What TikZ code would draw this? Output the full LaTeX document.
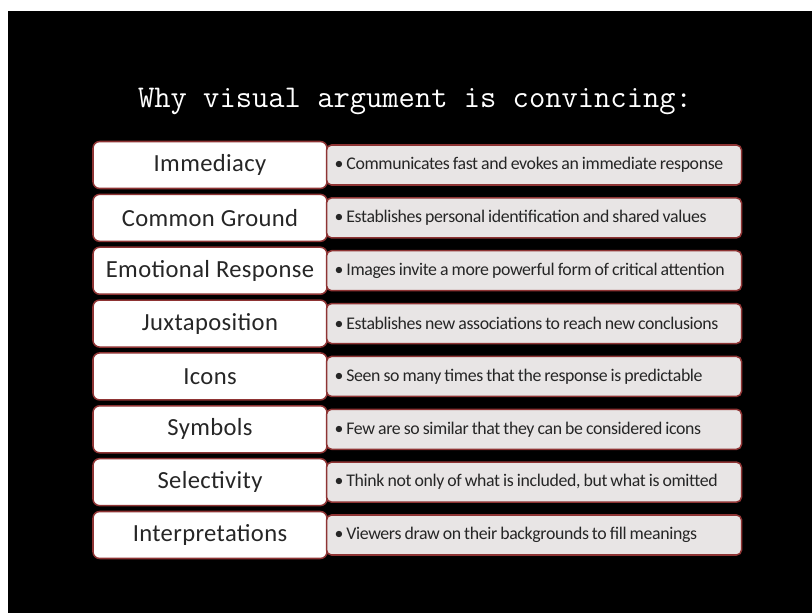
\documentclass[tikz,border=0pt]{standalone}
\usepackage{fontspec}
\setmainfont{Carlito}
\newfontfamily\descfont[LetterSpace=-2]{Carlito}
\newfontfamily\factorfont[LetterSpace=1.5]{Carlito}
\usepackage{tikz}
\usetikzlibrary{positioning}
\definecolor{boxRed}{HTML}{8E3434}
\definecolor{descGray}{HTML}{E8E5E5}
\definecolor{textGray}{HTML}{262626}
\newcommand{\because}[1]{{\spaceskip=0.17em\relax\xspaceskip=0.25em\relax\textbullet\,#1}}
\tikzstyle{factor} =[draw=boxRed, fill=white, rounded corners=0.2cm, line width=1.3pt, minimum width=7.02cm, minimum height=1.41cm, inner sep=0pt, text=textGray, font=\factorfont\fontsize{21}{24}\selectfont]
\tikzstyle{reason} =[draw=boxRed, fill=descGray, rounded corners=0.15cm, line width=1.3pt, minimum width=12.45cm, minimum height=1.2cm, inner xsep=0.24cm, inner ysep=0pt, text width=11.97cm, align=left, text=textGray, font=\descfont\fontsize{15.2}{17}\selectfont]

\begin{document}
\begin{tikzpicture}
\useasboundingbox (0,0) rectangle (24.36,-18.39);
\fill[white] (0,0) rectangle (24.36,-18.39);
\fill[black] (0.24,-0.33) rectangle (24.36,-18.39);

\node (title) [text=white, font=\ttfamily\fontsize{27}{30}\selectfont] at (12.45,-3.05) {Why visual argument is convincing:};

\node (immediacy) [factor] at (6.3,-4.95) {Immediacy};
\node (commonGround) [factor, below=0.13cm of immediacy] {Common Ground};
\node (emotional) [factor, below=0.13cm of commonGround] {Emotional Response};
\node (juxtaposition) [factor, below=0.13cm of emotional] {Juxtaposition};
\node (icons) [factor, below=0.13cm of juxtaposition] {Icons};
\node (symbols) [factor, below=0.13cm of icons] {Symbols};
\node (selectivity) [factor, below=0.13cm of symbols] {Selectivity};
\node (interpretations) [factor, below=0.13cm of selectivity] {Interpretations};

\node (immediacyText) [reason, right=-0.06cm of immediacy] {\because{Communicates fast and evokes an immediate response}};
\node (commonGroundText) [reason, right=-0.06cm of commonGround] {\because{Establishes personal identification and shared values}};
\node (emotionalText) [reason, right=-0.06cm of emotional] {\because{Images invite a more powerful form of critical attention}};
\node (juxtapositionText) [reason, right=-0.06cm of juxtaposition] {\because{Establishes new associations to reach new conclusions}};
\node (iconsText) [reason, right=-0.06cm of icons] {\because{Seen so many times that the response is predictable}};
\node (symbolsText) [reason, right=-0.06cm of symbols] {\because{Few are so similar that they can be considered icons}};
\node (selectivityText) [reason, right=-0.06cm of selectivity] {\because{Think not only of what is included, but what is omitted}};
\node (interpretationsText) [reason, right=-0.06cm of interpretations] {\because{Viewers draw on their backgrounds to fill meanings}};
\end{tikzpicture}
\end{document}
